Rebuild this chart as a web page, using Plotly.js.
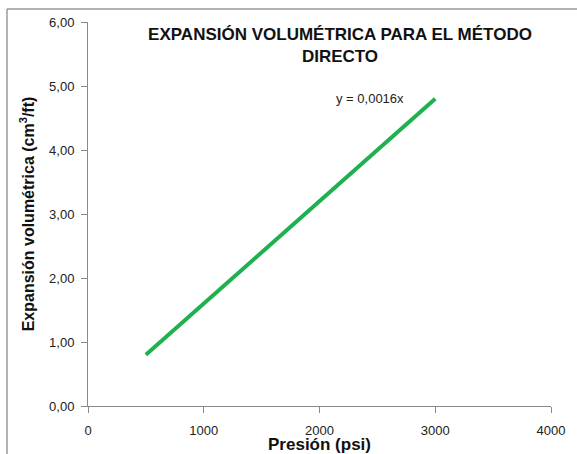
<!DOCTYPE html>
<html>
<head>
<meta charset="utf-8">
<script src="https://cdn.plot.ly/plotly-3.0.1.min.js"></script>
<style>html,body{margin:0;padding:0;background:#fff;}#chart{width:577px;height:454px;}</style>
</head>
<body>
<div id="chart"></div>
<script>
const presion = [500, 1000, 1500, 2000, 2500, 3000];
const expansion = [0.80, 1.60, 2.40, 3.20, 4.00, 4.80];
const xTicks = [0, 1000, 2000, 3000, 4000];
const yTicks = [0, 1, 2, 3, 4, 5, 6];
const yTickLabels = ["0,00", "1,00", "2,00", "3,00", "4,00", "5,00", "6,00"];
const titleText = "EXPANSIÓN VOLUMÉTRICA PARA EL MÉTODO<br>DIRECTO";
const xTitle = "Presión (psi)";
const yTitle = "Expansión volumétrica (cm<sup>3</sup>/ft)";
const eqText = "y = 0,0016x";

const trace = {
  x: presion, y: expansion, type: 'scatter', mode: 'lines',
  line: {color: '#1fb04f', width: 4}, hoverinfo: 'skip'
};
const fontFam = '"Liberation Sans", Arial, sans-serif';
const layout = {
  width: 577, height: 454,
  margin: {l: 88, r: 26, t: 22, b: 48},
  paper_bgcolor: '#fff', plot_bgcolor: '#fff',
  showlegend: false,
  font: {family: fontFam, color: '#222'},
  title: {
    text: titleText, font: {family: fontFam, size: 17, color: '#111', weight: 'bold'},
    xref: 'container', yref: 'container', x: 340/577, y: 1 - 40/454,
    xanchor: 'center', yanchor: 'middle'
  },
  xaxis: {
    range: [0, 4000], tickvals: xTicks, ticktext: xTicks.map(String),
    showgrid: false, zeroline: false, showline: true, linecolor: '#8a8a8a', linewidth: 1,
    ticks: 'outside', ticklen: 6, tickcolor: '#8a8a8a',
    tickfont: {size: 13, color: '#222'}, ticklabelstandoff: 6,
    title: {text: xTitle, font: {size: 17, color: '#111', weight: 'bold'}, standoff: 0}
  },
  yaxis: {
    range: [0, 6], tickvals: yTicks, ticktext: yTickLabels,
    showgrid: false, zeroline: false, showline: true, linecolor: '#8a8a8a', linewidth: 1,
    ticks: 'outside', ticklen: 6, tickcolor: '#8a8a8a',
    tickfont: {size: 13, color: '#222'}, ticklabelstandoff: 4,
    title: {text: yTitle, font: {size: 16, color: '#111', weight: 'bold'}, standoff: 10}
  },
  annotations: [{
    x: 2440, y: 4.81, xref: 'x', yref: 'y', text: eqText, showarrow: false,
    font: {size: 13, color: '#222'}, xanchor: 'center', yanchor: 'middle'
  }],
  shapes: [
    {type: 'line', xref: 'paper', yref: 'paper', x0: -81/463, x1: -81/463, y0: (406-454)/384, y1: (406-9)/384, line: {color: '#9a9a9a', width: 1.5}},
    {type: 'line', xref: 'paper', yref: 'paper', x0: -81/463, x1: 489/463, y0: (406-9)/384, y1: (406-9)/384, line: {color: '#9a9a9a', width: 1.5}}
  ]
};
Plotly.newPlot('chart', [trace], layout, {displayModeBar: false, staticPlot: true});
</script>
</body>
</html>
